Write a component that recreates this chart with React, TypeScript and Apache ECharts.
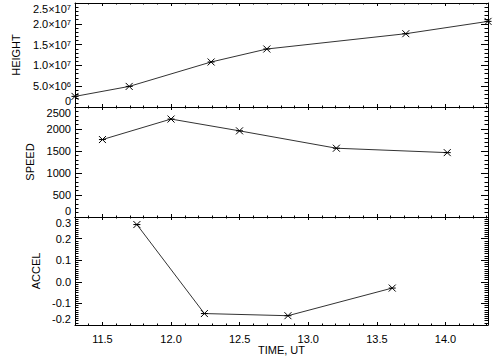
import React, { useEffect, useRef } from "react";
import * as echarts from "echarts";

// ---- data ----
const heightTime = [11.3, 11.695, 12.292, 12.698, 13.711, 14.31];
const heightValues = [2.55e6, 4.95e6, 1.082e7, 1.394e7, 1.762e7, 2.058e7];
const speedTime = [11.5, 12.0, 12.499, 13.205, 14.013];
const speedValues = [1760, 2226, 1958, 1563, 1463];
const accelTime = [11.751, 12.243, 12.852, 13.612];
const accelValues = [0.265, -0.147, -0.157, -0.029];

const xRange = [11.3, 14.31];
const xTickValues = [11.5, 12.0, 12.5, 13.0, 13.5, 14.0];
const xTickLabels = ["11.5", "12.0", "12.5", "13.0", "13.5", "14.0"];
const heightTicks = [0, 5e6, 1e7, 1.5e7, 2e7, 2.5e7];
const heightTickMantissa = ["0", "5.0", "1.0", "1.5", "2.0", "2.5"];
const heightTickExponent = ["", "6", "7", "7", "7", "7"];
const speedTicks = [0, 500, 1000, 1500, 2000, 2500];
const speedTickLabels = ["0", "500", "1000", "1500", "2000", "2500"];
const accelTicks = [-0.2, -0.1, 0.0, 0.1, 0.2, 0.3];
const accelTickLabels = ["-0.2", "-0.1", "0.0", "0.1", "0.2", "0.3"];
const panelTitles = ["HEIGHT", "SPEED", "ACCEL"];
const xTitle = "TIME, UT";

const FONT = "'Liberation Sans', Arial, Helvetica, sans-serif";
const INK = "#000";

function findIdx(arr: number[], v: number, eps: number) {
  for (let i = 0; i < arr.length; i++) if (Math.abs(arr[i] - v) < eps) return i;
  return -1;
}

export default function App() {
  const ref = useRef<HTMLDivElement>(null);
  useEffect(() => {
    if (!ref.current) return;
    const chart = echarts.init(ref.current, null, { renderer: "svg" });

    const grids = [
      { left: 75, right: 16, top: 3, height: 104 },
      { left: 75, right: 16, top: 107, height: 110 },
      { left: 75, right: 16, top: 217, height: 108 },
    ];

    const xAxes: any[] = [];
    grids.forEach((_, g) => {
      const last = g === grids.length - 1;
      // bottom major
      xAxes.push({
        type: "value",
        gridIndex: g,
        position: "bottom",
        min: xRange[0],
        max: xRange[1],
        splitNumber: 6,
        axisLine: { show: true, onZero: false, lineStyle: { color: INK, width: 1 } },
        axisTick: { show: true, inside: true, length: 3, lineStyle: { color: INK } },
        axisLabel: {
          show: last,
          margin: 8,
          color: INK,
          fontFamily: FONT,
          fontSize: 11,
          showMinLabel: false,
          showMaxLabel: false,
          formatter: (v: number) => {
            const i = findIdx(xTickValues, v, 1e-6);
            return i >= 0 ? xTickLabels[i] : "";
          },
        },
        splitLine: { show: false },
        name: last ? xTitle : "",
        nameLocation: "middle",
        nameGap: 19,
        nameTextStyle: { color: INK, fontFamily: FONT, fontSize: 11 },
      });
      // bottom minor
      xAxes.push({
        type: "value",
        gridIndex: g,
        position: "bottom",
        min: xRange[0],
        max: xRange[1],
        interval: 0.1,
        axisLine: { show: false, onZero: false },
        axisTick: { show: true, inside: true, length: 1.5, lineStyle: { color: INK } },
        axisLabel: { show: false },
        splitLine: { show: false },
      });
      // top major
      xAxes.push({
        type: "value",
        gridIndex: g,
        position: "top",
        min: xRange[0],
        max: xRange[1],
        splitNumber: 6,
        axisLine: { show: true, onZero: false, lineStyle: { color: INK, width: 1 } },
        axisTick: { show: true, inside: true, length: 3, lineStyle: { color: INK } },
        axisLabel: { show: false },
        splitLine: { show: false },
      });
      // top minor
      xAxes.push({
        type: "value",
        gridIndex: g,
        position: "top",
        min: xRange[0],
        max: xRange[1],
        interval: 0.1,
        axisLine: { show: false, onZero: false },
        axisTick: { show: true, inside: true, length: 1.5, lineStyle: { color: INK } },
        axisLabel: { show: false },
        splitLine: { show: false },
      });
    });

    const yCfg = [
      {
        ticks: heightTicks,
        minorSplit: 5,
        gap: 50,
        formatter: (v: number) => {
          const i = findIdx(heightTicks, v, 1);
          if (i < 0) return "";
          return heightTickExponent[i]
            ? `{m|${heightTickMantissa[i]}×10}{e|${heightTickExponent[i]}}`
            : `{m|${heightTickMantissa[i]}}`;
        },
      },
      {
        ticks: speedTicks,
        minorSplit: 5,
        gap: 34,
        formatter: (v: number) => {
          const i = findIdx(speedTicks, v, 1e-6);
          return i >= 0 ? `{m|${speedTickLabels[i]}}` : "";
        },
      },
      {
        ticks: accelTicks,
        minorSplit: 10,
        gap: 29,
        formatter: (v: number) => {
          const i = findIdx(accelTicks, v, 1e-6);
          return i >= 0 ? `{m|${accelTickLabels[i]}}` : "";
        },
      },
    ];

    const yAxes: any[] = [];
    yCfg.forEach((c, g) => {
      const min = c.ticks[0];
      const max = c.ticks[c.ticks.length - 1];
      const interval = c.ticks[1] - c.ticks[0];
      yAxes.push({
        type: "value",
        gridIndex: g,
        position: "left",
        min,
        max,
        interval,
        axisLine: { show: true, onZero: false, lineStyle: { color: INK, width: 1 } },
        axisTick: { show: true, inside: true, length: 7, lineStyle: { color: INK } },
        minorTick: { show: true, splitNumber: c.minorSplit, length: 3.5, lineStyle: { color: INK } },
        axisLabel: {
          show: true,
          margin: 4,
          color: INK,
          fontFamily: FONT,
          fontSize: 11,
          padding: [0.5, 0, 0.5, 0],
          verticalAlignMaxLabel: "top",
          verticalAlignMinLabel: "bottom",
          formatter: c.formatter,
          rich: {
            m: { fontFamily: FONT, fontSize: 11, color: INK, lineHeight: 11 },
            e: { fontFamily: FONT, fontSize: 7.5, color: INK, verticalAlign: "top", lineHeight: 11 },
          },
        },
        splitLine: { show: false },
        name: panelTitles[g],
        nameLocation: "middle",
        nameRotate: 90,
        nameGap: c.gap,
        nameTextStyle: { color: INK, fontFamily: FONT, fontSize: 11 },
      });
      yAxes.push({
        type: "value",
        gridIndex: g,
        position: "right",
        min,
        max,
        interval,
        axisLine: { show: true, onZero: false, lineStyle: { color: INK, width: 1 } },
        axisTick: { show: true, inside: true, length: 7, lineStyle: { color: INK } },
        minorTick: { show: true, splitNumber: c.minorSplit, length: 3.5, lineStyle: { color: INK } },
        axisLabel: { show: false },
        splitLine: { show: false },
      });
    });

    const asterisk = "path://M0,0L10,10M10,0L0,10M0,5L10,5";
    const mkSeries = (g: number, xs: number[], ys: number[]) => ({
      type: "line",
      xAxisIndex: g * 4,
      yAxisIndex: g * 2,
      data: xs.map((x, i) => [x, ys[i]]),
      symbol: asterisk,
      symbolSize: 7,
      showSymbol: true,
      clip: false,
      lineStyle: { color: "#333", width: 1 },
      itemStyle: { color: "rgba(0,0,0,0)", borderColor: INK, borderWidth: 1 },
      emphasis: { disabled: true },
      silent: true,
    });

    chart.setOption({
      animation: false,
      backgroundColor: "#fff",
      textStyle: { fontFamily: FONT },
      grid: grids,
      xAxis: xAxes,
      yAxis: yAxes,
      series: [
        mkSeries(0, heightTime, heightValues),
        mkSeries(1, speedTime, speedValues),
        mkSeries(2, accelTime, accelValues),
      ],
    });
    return () => chart.dispose();
  }, []);

  return (
    <div
      ref={ref}
      style={{ position: "fixed", left: 0, top: 0, width: 504, height: 360, background: "#fff" }}
    />
  );
}
